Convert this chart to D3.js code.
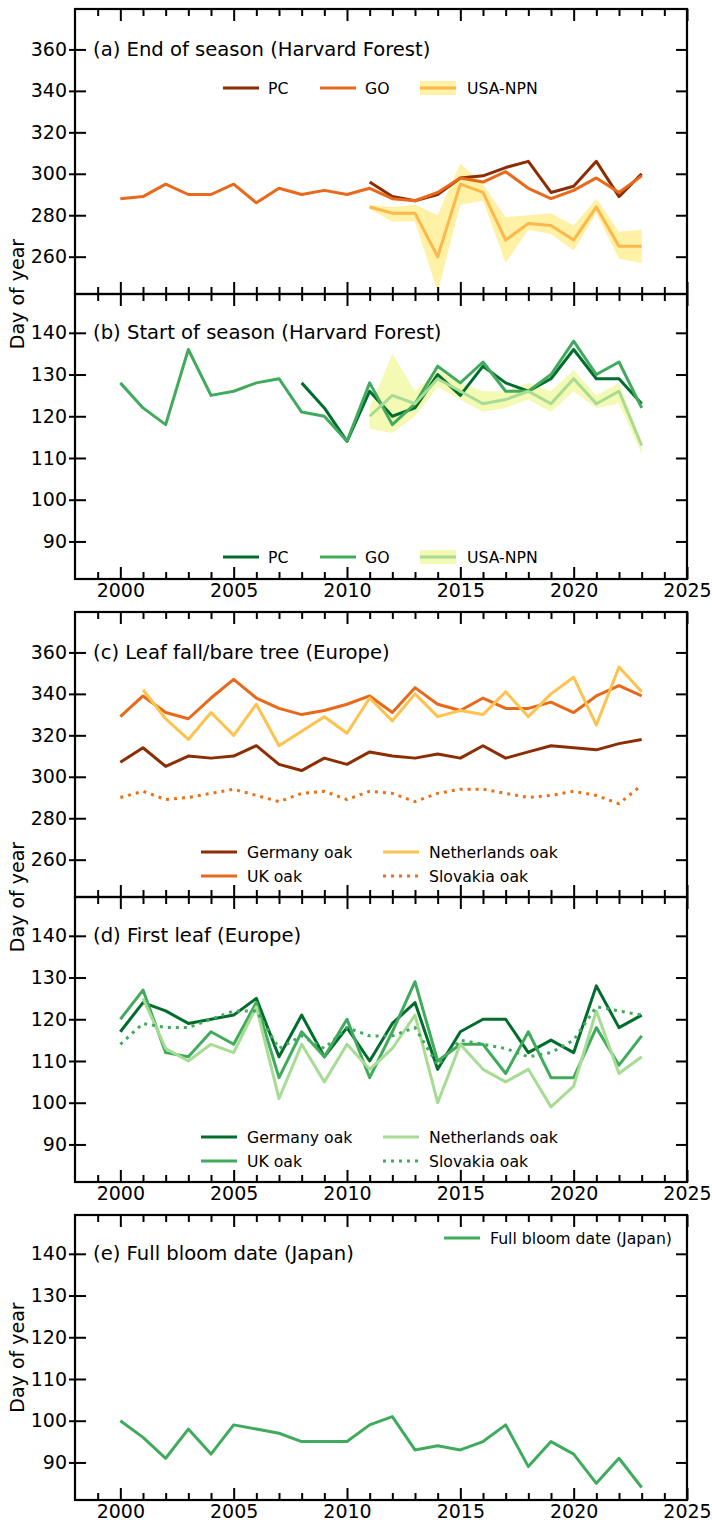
<!DOCTYPE html>
<html><head><meta charset="utf-8">
<script src="https://cdn.jsdelivr.net/npm/d3@7"></script>
<style>
body{margin:0;background:#fff}
svg{display:block}
text{font-family:"DejaVu Sans",sans-serif;fill:#000}
</style>
</head><body>
<svg id="chart" width="712" height="1526"></svg>
<script>
// ---------- categories ----------
const years = [2000,2001,2002,2003,2004,2005,2006,2007,2008,2009,2010,2011,2012,2013,2014,2015,2016,2017,2018,2019,2020,2021,2022,2023];
const yearsFrom2001 = years.slice(1);
const yearsFrom2008 = years.slice(8);
const yearsFrom2011 = years.slice(11);
const xMajorTicks = [2000,2005,2010,2015,2020,2025];
const xMinorTicks = [1999,2001,2002,2003,2004,2006,2007,2008,2009,2011,2012,2013,2014,2016,2017,2018,2019,2021,2022,2023,2024];
const autumnTicks = [260,280,300,320,340,360];
const springTicks = [90,100,110,120,130,140];

// ---------- (a) End of season (Harvard Forest) ----------
const aPC  = [296,289,287,290,298,299,303,306,291,294,306,289,300];            // 2011-2023
const aGO  = [288,289,295,290,290,295,286,293,290,292,290,293,288,287,291,298,296,301,293,288,292,298,291,299];
const aNPN = [284,281,281,260,295,291,268,276,275,268,284,265,265];            // 2011-2023
const aNPNlo = [283,277,277,243,285,287,257,273,271,263,281,259,257];
const aNPNhi = [285,284,285,280,305,295,279,280,281,275,288,272,273];

// ---------- (b) Start of season (Harvard Forest) ----------
const bPC  = [128,122,114,126,120,122,130,125,132,128,126,129,136,129,129,123]; // 2008-2023
const bGO  = [128,122,118,136,125,126,128,129,121,120,114,128,118,123,132,128,133,126,126,130,138,130,133,122];
const bNPN = [120,125,123,129,126,123,124,126,123,129,123,126,113];             // 2011-2023
const bNPNlo = [117,116,120,127,124,121,122,124,121,126,122,123,111];
const bNPNhi = [122,135,126,131,128,126,126,128,126,131,125,128,114];

// ---------- (c) Leaf fall/bare tree (Europe) ----------
const cGermany = [307,314,305,310,309,310,315,306,303,309,306,312,310,309,311,309,315,309,312,315,314,313,316,318];
const cUK      = [329,339,331,328,338,347,338,333,330,332,335,339,331,343,335,332,338,333,333,336,331,339,344,339];
const cNetherlands = [342,328,318,331,320,335,315,322,329,321,338,327,340,329,332,330,341,329,340,348,325,353,341]; // 2001-2023
const cSlovakia = [290,293,289,290,292,294,291,288,292,293,289,293,292,288,292,294,294,292,290,291,293,291,287,296];

// ---------- (d) First leaf (Europe) ----------
const dGermany = [117,124,122,119,120,121,125,111,121,111,118,110,119,124,108,117,120,120,112,115,112,128,118,121];
const dUK      = [120,127,112,111,117,114,124,106,117,111,120,106,117,129,110,114,114,107,117,106,106,118,109,116];
const dNetherlands = [125,113,110,114,112,123,101,114,105,114,108,113,121,100,114,108,105,108,99,104,122,107,111]; // 2001-2023
const dSlovakia = [114,119,118,118,120,122,122,113,116,113,118,116,116,118,109,115,114,113,111,112,115,123,122,121];

// ---------- (e) Full bloom date (Japan) ----------
const eJapan = [100,96,91,98,92,99,98,97,95,95,95,99,101,93,94,93,95,99,89,95,92,85,91,84];

// ---------- colours ----------
const C = {
  pcBrown:"#8c2d04", goOrange:"#e8691a", npnOrange:"#fdb74a", bandYellow:"#fff1a6",
  pcGreen:"#006d2c", goGreen:"#41ab5d", npnGreen:"#a6dc93", bandGreen:"#f4f9b4",
  ukOrange:"#e8691a", nlOrange:"#fec24d", skOrange:"#ec7014"
};

// ---------- layout ----------
const L = 75, R = 687;
const x = d3.scaleLinear().domain([1998, 2025]).range([L, R]);
const svg = d3.select("#chart");
const FS_TICK = 19, FS_TITLE = 19.6, FS_LEG = 15.7, FS_YLAB = 19;

const panels = [
  {top:9,   bottom:294,  domain:[242,379.5], ticks:autumnTicks, labels:false, title:"(a) End of season (Harvard Forest)"},
  {top:294, bottom:579,  domain:[81,149.3],  ticks:springTicks, labels:true,  title:"(b) Start of season (Harvard Forest)"},
  {top:612, bottom:897,  domain:[242,379.5], ticks:autumnTicks, labels:false, title:"(c) Leaf fall/bare tree (Europe)"},
  {top:897, bottom:1182, domain:[81,149.3],  ticks:springTicks, labels:true,  title:"(d) First leaf (Europe)"},
  {top:1215,bottom:1500, domain:[81,149.3],  ticks:springTicks, labels:true,  title:"(e) Full bloom date (Japan)"}
];
panels.forEach(p => { p.y = d3.scaleLinear().domain(p.domain).range([p.bottom, p.top]); });

function lineGen(p){ return d3.line().x(d=>x(d[0])).y(d=>p.y(d[1])); }
function zip(xs, vs){ return xs.map((v,i)=>[v, vs[i]]); }

function drawLine(p, xs, vs, color, dash){
  const g = svg.append("path").datum(zip(xs, vs))
    .attr("d", lineGen(p)).attr("fill","none").attr("stroke",color)
    .attr("stroke-width",3).attr("stroke-linejoin","round").attr("stroke-linecap","butt");
  if (dash) g.attr("stroke-dasharray", dash);
}
function drawBand(p, xs, lo, hi, color){
  const area = d3.area().x(d=>x(d[0])).y0(d=>p.y(d[1])).y1(d=>p.y(d[2]));
  svg.append("path").datum(xs.map((v,i)=>[v, lo[i], hi[i]]))
    .attr("d", area).attr("fill", color).attr("stroke","none");
}

// ---------- data marks ----------
const [pa,pb,pc,pd,pe] = panels;
drawBand(pa, yearsFrom2011, aNPNlo, aNPNhi, C.bandYellow);
drawLine(pa, yearsFrom2011, aPC, C.pcBrown);
drawLine(pa, years, aGO, C.goOrange);
drawLine(pa, yearsFrom2011, aNPN, C.npnOrange);

drawBand(pb, yearsFrom2011, bNPNlo, bNPNhi, C.bandGreen);
drawLine(pb, yearsFrom2008, bPC, C.pcGreen);
drawLine(pb, years, bGO, C.goGreen);
drawLine(pb, yearsFrom2011, bNPN, C.npnGreen);

drawLine(pc, years, cGermany, C.pcBrown);
drawLine(pc, years, cUK, C.ukOrange);
drawLine(pc, yearsFrom2001, cNetherlands, C.nlOrange);
drawLine(pc, years, cSlovakia, C.skOrange, "3,5");

drawLine(pd, years, dGermany, C.pcGreen);
drawLine(pd, years, dUK, C.goGreen);
drawLine(pd, yearsFrom2001, dNetherlands, C.npnGreen);
drawLine(pd, years, dSlovakia, C.goGreen, "3,5");

drawLine(pe, years, eJapan, C.goGreen);

// ---------- axes ----------
function styleAxis(g){
  g.select(".domain").remove();
  g.selectAll("line").attr("stroke","#000").attr("stroke-width",2);
  g.selectAll("text").attr("font-family","DejaVu Sans").attr("fill","#000");
}
panels.forEach(p=>{
  const gb = svg.append("g").attr("transform",`translate(0,${p.bottom})`)
    .call(d3.axisBottom(x).tickValues(xMajorTicks).tickSize(-12).tickPadding(5)
      .tickFormat(p.labels ? d3.format("d") : ()=>""));
  gb.selectAll("text").attr("font-size",FS_TICK);
  styleAxis(gb);
  const gbm = svg.append("g").attr("transform",`translate(0,${p.bottom})`)
    .call(d3.axisBottom(x).tickValues(xMinorTicks).tickSize(-7).tickFormat(()=>""));
  styleAxis(gbm);
  const gt = svg.append("g").attr("transform",`translate(0,${p.top})`)
    .call(d3.axisTop(x).tickValues(xMajorTicks).tickSize(-12).tickFormat(()=>""));
  styleAxis(gt);
  const gtm = svg.append("g").attr("transform",`translate(0,${p.top})`)
    .call(d3.axisTop(x).tickValues(xMinorTicks).tickSize(-7).tickFormat(()=>""));
  styleAxis(gtm);
  const gl = svg.append("g").attr("transform",`translate(${L},0)`)
    .call(d3.axisLeft(p.y).tickValues(p.ticks).tickSize(6).tickPadding(2).tickFormat(d3.format("d")));
  gl.selectAll("line").attr("x1", 11);
  gl.selectAll("text").attr("font-size",FS_TICK);
  styleAxis(gl);
  const gr = svg.append("g").attr("transform",`translate(${R},0)`)
    .call(d3.axisRight(p.y).tickValues(p.ticks).tickSize(-11).tickFormat(()=>""));
  styleAxis(gr);
  svg.append("rect").attr("x",L).attr("y",p.top).attr("width",R-L).attr("height",p.bottom-p.top)
    .attr("fill","none").attr("stroke","#000").attr("stroke-width",2.2);
  svg.append("text").attr("x",93).attr("y",p.y(p.ticks[p.ticks.length-1]))
    .attr("dominant-baseline","central").attr("font-size",FS_TITLE).text(p.title);
});

// ---------- y labels ----------
const yLabelPos = [pa.bottom, pc.bottom, (pe.top+pe.bottom)/2];
yLabelPos.forEach(cy=>{
  svg.append("text").attr("transform",`translate(17,${cy}) rotate(-90)`)
    .attr("text-anchor","middle").attr("dominant-baseline","central")
    .attr("font-size",FS_YLAB).text("Day of year");
});

// ---------- legends ----------
function legendItem(x0, y0, label, color, opts={}){
  const len = 36;
  if (opts.band){
    svg.append("rect").attr("x",x0).attr("y",y0-7).attr("width",len).attr("height",14).attr("fill",opts.band);
  }
  const l = svg.append("line").attr("x1",x0).attr("x2",x0+len).attr("y1",y0).attr("y2",y0)
    .attr("stroke",color).attr("stroke-width",3);
  if (opts.dash) l.attr("stroke-dasharray",opts.dash);
  svg.append("text").attr("x",x0+len+(opts.gap||10)).attr("y",y0).attr("dominant-baseline","central")
    .attr("font-size",FS_LEG).text(label);
}
const seasonLegend = ["PC","GO","USA-NPN"];
const europeLegend = ["Germany oak","UK oak","Netherlands oak","Slovakia oak"];
const japanLegend = ["Full bloom date (Japan)"];

legendItem(223, pa.top+79, seasonLegend[0], C.pcBrown, {gap:9});
legendItem(320, pa.top+79, seasonLegend[1], C.goOrange, {gap:9});
legendItem(420, pa.top+79, seasonLegend[2], C.npnOrange, {band:C.bandYellow, gap:11});

legendItem(223, pb.bottom-22, seasonLegend[0], C.pcGreen, {gap:9});
legendItem(320, pb.bottom-22, seasonLegend[1], C.goGreen, {gap:9});
legendItem(420, pb.bottom-22, seasonLegend[2], C.npnGreen, {band:C.bandGreen, gap:11});

legendItem(201, pc.bottom-45, europeLegend[0], C.pcBrown);
legendItem(201, pc.bottom-21, europeLegend[1], C.ukOrange);
legendItem(383, pc.bottom-45, europeLegend[2], C.nlOrange);
legendItem(383, pc.bottom-21, europeLegend[3], C.skOrange, {dash:"3,5"});

legendItem(201, pd.bottom-45, europeLegend[0], C.pcGreen);
legendItem(201, pd.bottom-21, europeLegend[1], C.goGreen);
legendItem(383, pd.bottom-45, europeLegend[2], C.npnGreen);
legendItem(383, pd.bottom-21, europeLegend[3], C.goGreen, {dash:"3,5"});

legendItem(444, pe.top+23, japanLegend[0], C.goGreen);
</script>
</body></html>
